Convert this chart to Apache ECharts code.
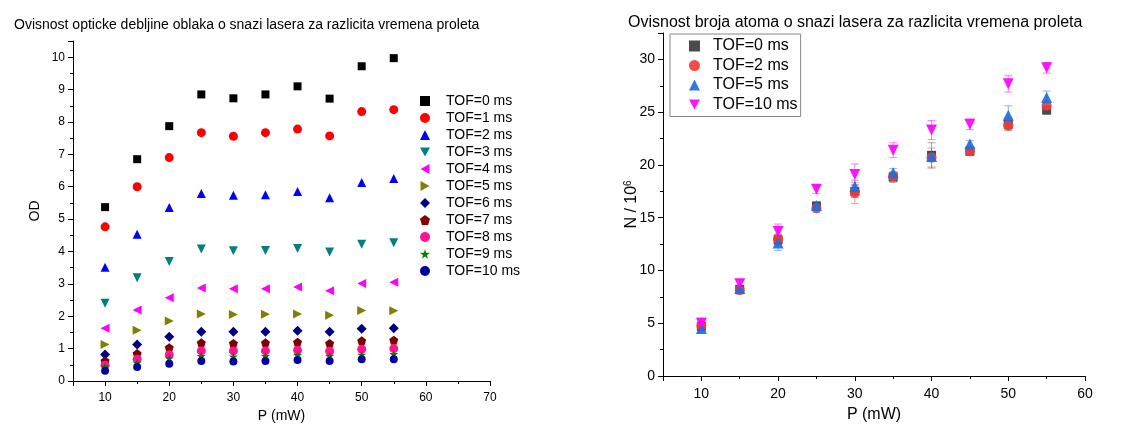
<!DOCTYPE html>
<html>
<head>
<meta charset="utf-8">
<script src="https://cdn.jsdelivr.net/npm/echarts@6/dist/echarts.min.js"></script>
<style>
  html, body { margin: 0; padding: 0; background: #fff; }
  #chart { width: 1131px; height: 429px; }
</style>
</head>
<body>
<div id="chart"></div>
<script>
// snaga lasera (mW)
const power = [10, 15, 20, 25, 30, 35, 40, 45, 50, 55]

// opticka debljina po TOF
const odTof0 = [5.37, 6.85, 7.87, 8.85, 8.73, 8.85, 9.10, 8.72, 9.72, 9.97]
const odTof1 = [4.76, 6.00, 6.90, 7.67, 7.56, 7.67, 7.78, 7.57, 8.32, 8.38]
const odTof2 = [3.51, 4.53, 5.36, 5.79, 5.74, 5.75, 5.85, 5.66, 6.13, 6.25]
const odTof3 = [2.40, 3.19, 3.69, 4.08, 4.02, 4.03, 4.09, 3.98, 4.22, 4.27]
const odTof4 = [1.63, 2.19, 2.57, 2.87, 2.85, 2.85, 2.90, 2.79, 3.01, 3.05]
const odTof5 = [1.13, 1.57, 1.85, 2.07, 2.05, 2.06, 2.07, 2.03, 2.18, 2.17]
const odTof6 = [0.82, 1.13, 1.37, 1.52, 1.52, 1.52, 1.55, 1.52, 1.61, 1.63]
const odTof7 = [0.62, 0.85, 1.03, 1.18, 1.16, 1.18, 1.20, 1.16, 1.24, 1.26]
const odTof8 = [0.49, 0.67, 0.81, 0.93, 0.93, 0.93, 0.95, 0.92, 0.98, 1.00]
const odTof9 = [0.44, 0.56, 0.70, 0.77, 0.75, 0.77, 0.80, 0.77, 0.81, 0.83]
const odTof10 = [0.32, 0.43, 0.53, 0.62, 0.60, 0.62, 0.65, 0.62, 0.67, 0.67]

// broj atoma (N / 10^6) i greske
const nTof0 = [4.70, 8.20, 12.90, 16.10, 17.50, 18.85, 20.90, 21.30, 23.85, 25.20]
const nTof2 = [4.75, 8.15, 12.95, 15.90, 17.35, 18.90, 20.70, 21.30, 23.75, 25.60]
const nTof5 = [4.50, 8.30, 12.60, 16.15, 17.95, 19.25, 20.80, 22.00, 24.70, 26.40]
const nTof10 = [5.00, 8.75, 13.70, 17.70, 19.10, 21.40, 23.30, 23.85, 27.70, 29.20]
const errTof0 = [0.3, 0.3, 0.5, 0.4, 0.6, 0.5, 1.2, 0.4, 0.6, 0.4]
const errTof2 = [0.4, 0.4, 0.5, 0.4, 1.0, 0.4, 0.9, 0.3, 0.4, 0.3]
const errTof5 = [0.3, 0.3, 0.7, 0.3, 0.6, 0.4, 0.5, 0.3, 0.9, 0.6]
const errTof10 = [0.5, 0.4, 0.7, 0.4, 1.0, 0.7, 0.9, 0.5, 0.8, 0.5]

const FONT = 'Liberation Sans, Arial, sans-serif'

// oblici markera
const triDown = 'path://M0,0 L10,0 L5,9 Z'
const triLeft = 'path://M0,5 L9,0 L9,10 Z'
const triRight = 'path://M0,0 L9,5 L0,10 Z'
const pentagon = 'path://M5,0 L10,3.8 L8.1,10 L1.9,10 L0,3.8 Z'
const star = 'path://M5,0 L6.2,3.6 L10,3.6 L6.9,5.9 L8.1,9.5 L5,7.3 L1.9,9.5 L3.1,5.9 L0,3.6 L3.8,3.6 Z'

const leftDefs = [
  { name: 'TOF=0 ms', data: odTof0, color: '#000000', symbol: 'rect', size: 8 },
  { name: 'TOF=1 ms', data: odTof1, color: '#ff0000', symbol: 'circle', size: 9 },
  { name: 'TOF=2 ms', data: odTof2, color: '#0000ff', symbol: 'triangle', size: 9 },
  { name: 'TOF=3 ms', data: odTof3, color: '#008080', symbol: triDown, size: 9 },
  { name: 'TOF=4 ms', data: odTof4, color: '#ff00ff', symbol: triLeft, size: 9 },
  { name: 'TOF=5 ms', data: odTof5, color: '#808000', symbol: triRight, size: 9 },
  { name: 'TOF=6 ms', data: odTof6, color: '#000080', symbol: 'diamond', size: 10 },
  { name: 'TOF=7 ms', data: odTof7, color: '#800000', symbol: pentagon, size: 9 },
  { name: 'TOF=8 ms', data: odTof8, color: '#ff1493', symbol: 'circle', size: 9 },
  { name: 'TOF=9 ms', data: odTof9, color: '#008000', symbol: star, size: 9 },
  { name: 'TOF=10 ms', data: odTof10, color: '#00009c', symbol: 'circle', size: 8 }
]

// imena desno imaju razmak na kraju da se ne mijesaju s lijevom legendom
const rightDefs = [
  { name: 'TOF=0 ms ', data: nTof0, err: errTof0, color: '#3c3c3c', bar: 'rgba(60,60,60,0.45)', symbol: 'rect', size: 9 },
  { name: 'TOF=2 ms ', data: nTof2, err: errTof2, color: '#f03c3c', bar: 'rgba(240,60,60,0.5)', symbol: 'circle', size: 10 },
  { name: 'TOF=5 ms ', data: nTof5, err: errTof5, color: '#1e6fdc', bar: 'rgba(30,111,220,0.5)', symbol: 'triangle', size: 11 },
  { name: 'TOF=10 ms ', data: nTof10, err: errTof10, color: '#ff00ff', bar: 'rgba(255,0,255,0.5)', symbol: triDown, size: 11 }
]

// crtanje error barova
function errorBar (color) {
  return function (params, api) {
    const x = api.value(0)
    const top = api.coord([x, api.value(2)])
    const bot = api.coord([x, api.value(1)])
    const w = 4
    return {
      type: 'group',
      children: [
        { type: 'line', shape: { x1: top[0], y1: top[1], x2: bot[0], y2: bot[1] }, style: { stroke: color, lineWidth: 1 } },
        { type: 'line', shape: { x1: top[0] - w, y1: top[1], x2: top[0] + w, y2: top[1] }, style: { stroke: color, lineWidth: 1 } },
        { type: 'line', shape: { x1: bot[0] - w, y1: bot[1], x2: bot[0] + w, y2: bot[1] }, style: { stroke: color, lineWidth: 1 } }
      ]
    }
  }
}

function axisBase (fontSize) {
  return {
    axisLine: { show: true, onZero: false, lineStyle: { color: '#000', width: 1 } },
    axisTick: { show: true, inside: false, length: 5, lineStyle: { color: '#000' } },
    minorTick: { show: true, splitNumber: 2, length: 3, lineStyle: { color: '#000' } },
    splitLine: { show: false },
    axisLabel: { color: '#000', fontSize: fontSize, fontFamily: FONT, margin: 6 },
    nameTextStyle: { color: '#000', fontFamily: FONT },
    nameLocation: 'middle',
    nameMoveOverlap: false
  }
}

const series = []
leftDefs.forEach(d => {
  series.push({
    name: d.name,
    type: 'scatter',
    xAxisIndex: 0,
    yAxisIndex: 0,
    symbol: d.symbol,
    symbolSize: d.size,
    itemStyle: { color: d.color, opacity: 1 },
    data: power.map((p, i) => [p, d.data[i]])
  })
})
rightDefs.forEach(d => {
  series.push({
    type: 'custom',
    xAxisIndex: 1,
    yAxisIndex: 1,
    renderItem: errorBar(d.bar),
    encode: { x: 0, y: [1, 2] },
    silent: true,
    z: 1,
    data: power.map((p, i) => [p, d.data[i] - d.err[i], d.data[i] + d.err[i]])
  })
})
rightDefs.forEach(d => {
  series.push({
    name: d.name,
    type: 'scatter',
    xAxisIndex: 1,
    yAxisIndex: 1,
    symbol: d.symbol,
    symbolSize: d.size,
    itemStyle: { color: d.color, opacity: 0.92 },
    z: 3,
    data: power.map((p, i) => [p, d.data[i]])
  })
})

const option = {
  animation: false,
  backgroundColor: '#fff',
  textStyle: { fontFamily: FONT },
  title: [
    {
      text: 'Ovisnost opticke debljine oblaka o snazi lasera za razlicita vremena proleta',
      left: 9,
      top: 13,
      textStyle: { fontSize: 14, fontWeight: 'normal', color: '#000', fontFamily: FONT }
    },
    {
      text: 'Ovisnost broja atoma o snazi lasera za razlicita vremena proleta',
      left: 623,
      top: 10,
      textStyle: { fontSize: 16, fontWeight: 'normal', color: '#000', fontFamily: FONT }
    }
  ],
  legend: [
    {
      orient: 'vertical',
      left: 420,
      top: 94,
      itemWidth: 10,
      itemHeight: 10,
      itemGap: 3,
      padding: 0,
      textStyle: { fontSize: 14, color: '#000', fontFamily: FONT, padding: [0, 0, 0, 11] },
      data: leftDefs.map(d => ({ name: d.name, icon: d.symbol }))
    },
    {
      orient: 'vertical',
      left: 670,
      top: 34,
      itemWidth: 11,
      itemHeight: 11,
      itemGap: 3.5,
      padding: [4, 3, 4, 19],
      borderColor: '#888',
      borderWidth: 1,
      formatter: name => name.trim(),
      textStyle: { fontSize: 16, color: '#000', fontFamily: FONT, padding: [0, 0, 0, 8] },
      data: rightDefs.map(d => ({ name: d.name, icon: d.symbol }))
    }
  ],
  grid: [
    { left: 73, right: 641, top: 41, bottom: 48 },
    { left: 663, right: 46, top: 33, bottom: 53 }
  ],
  xAxis: [
    Object.assign(axisBase(12), {
      gridIndex: 0,
      type: 'value',
      min: 5,
      max: 70,
      splitNumber: 6,
      name: 'P (mW)',
      nameGap: 28,
      nameTextStyle: { color: '#000', fontFamily: FONT, fontSize: 14 },
      axisLabel: { color: '#000', fontSize: 12, fontFamily: FONT, margin: 11, showMinLabel: false }
    }),
    Object.assign(axisBase(14), {
      gridIndex: 1,
      type: 'value',
      min: 5,
      max: 60,
      splitNumber: 5,
      name: 'P (mW)',
      nameGap: 31,
      nameTextStyle: { color: '#000', fontFamily: FONT, fontSize: 16 },
      axisLabel: { color: '#000', fontSize: 14, fontFamily: FONT, margin: 11, showMinLabel: false }
    })
  ],
  yAxis: [
    Object.assign(axisBase(12), {
      gridIndex: 0,
      type: 'value',
      min: 0,
      max: 10.5,
      interval: 1,
      name: 'OD',
      nameGap: 31,
      nameTextStyle: { color: '#000', fontFamily: FONT, fontSize: 14 },
      axisLabel: { color: '#000', fontSize: 12, fontFamily: FONT, margin: 8, showMaxLabel: false }
    }),
    Object.assign(axisBase(14), {
      gridIndex: 1,
      type: 'value',
      min: 0,
      max: 32.5,
      interval: 5,
      name: 'N / 10{sup|6}',
      nameGap: 22,
      nameTextStyle: {
        color: '#000',
        fontFamily: FONT,
        fontSize: 16,
        rich: { sup: { fontSize: 10, verticalAlign: 'top', padding: [0, 0, 8, 0], color: '#000', fontFamily: FONT } }
      },
      axisLabel: { color: '#000', fontSize: 14, fontFamily: FONT, margin: 8, showMaxLabel: false }
    })
  ],
  series: series
}

const chart = echarts.init(document.getElementById('chart'))
chart.setOption(option)
</script>
</body>
</html>
